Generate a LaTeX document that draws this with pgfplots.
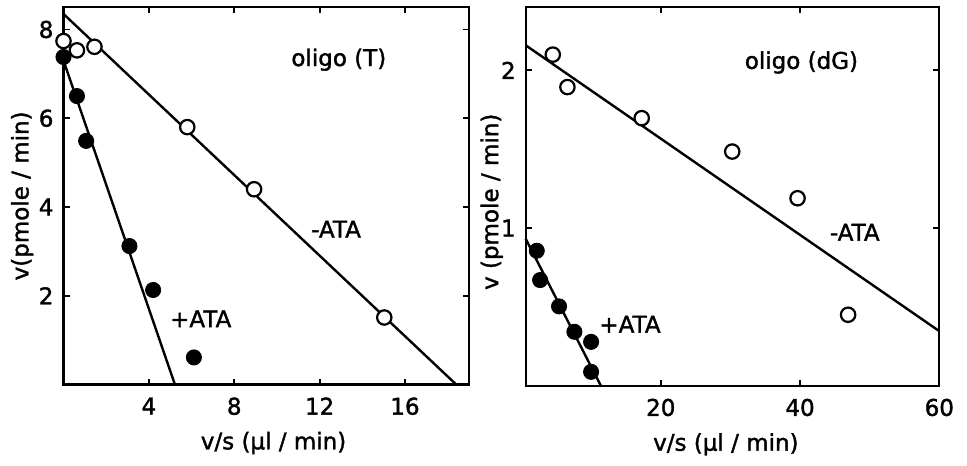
\documentclass[border=0pt]{standalone}
\usepackage{fontspec}
\setmainfont{DejaVu Sans}[FakeBold=1.5]
\usepackage{pgfplots}
\pgfplotsset{compat=1.18}
\newcommand{\lf}{\fontsize{11.5}{13}\selectfont}
\begin{document}
\begin{tikzpicture}
\useasboundingbox (0,0) rectangle (483.5pt,232.5pt);
\pgfplotsset{
  every axis/.append style={
    scale only axis, clip=false,
    axis line style={line width=1.1pt},
    tick align=inside, major tick length=3pt,
    every tick/.style={line width=0.9pt, black},
    /pgf/number format/assume math mode=true,
    tick label style={font=\lf},
    label style={font=\lf},
    xticklabel style={yshift=-3pt},
    yticklabel style={xshift=-1.5pt},
  },
  openc/.style={only marks, mark=*, mark size=3.6pt, mark options={fill=white, draw=black, line width=1.1pt}},
  fillc/.style={only marks, mark=*, mark size=3.8pt, mark options={fill=black, draw=black}},
  fitl/.style={no marks, line width=1.2pt, black},
}
% ---------- left panel: oligo (T)
\begin{axis}[at={(31.75pt,40.25pt)}, anchor=south west,
  width=202.75pt, height=188.6pt,
  xmin=0, xmax=19, ymin=0, ymax=8.5,
  xtick={4,8,12,16}, ytick={2,4,6,8},
  xlabel={v/s (µl / min)}, ylabel={v(pmole / min)},
  xlabel style={at={(axis description cs:0.518,-0.155)}, anchor=center},
  ylabel style={at={(axis description cs:-0.102,0.5)}, anchor=center}]
\addplot[fitl] coordinates {(0,8.35) (18.4,0)};
\addplot[fitl] coordinates {(0,7.3) (5.22,0)};
\addplot[openc] coordinates {(0,7.74) (0.63,7.53) (1.45,7.61) (5.8,5.80) (8.93,4.40) (15.03,1.51)};
\addplot[fillc] coordinates {(0,7.38) (0.63,6.5) (1.06,5.49) (3.09,3.12) (4.2,2.13) (6.11,0.61)};
\node[font=\lf] at (axis cs:12.9,7.32) {oligo (T)};
\node[font=\lf] at (axis cs:12.77,3.5) {-ATA};
\node[font=\lf] at (axis cs:6.43,1.48) {+ATA};
\end{axis}
% ---------- right panel: oligo (dG)
\begin{axis}[at={(262.85pt,39.65pt)}, anchor=south west,
  width=206.8pt, height=189.2pt,
  xmin=0.6, xmax=60, ymin=0, ymax=2.4,
  xtick={20,40,60}, ytick={1,2},
  xlabel={v/s (µl / min)}, ylabel={v (pmole / min)},
  xlabel style={at={(axis description cs:0.484,-0.155)}, anchor=center},
  ylabel style={at={(axis description cs:-0.082,0.486)}, anchor=center}]
\addplot[fitl] coordinates {(0.6,2.159) (60,0.346)};
\addplot[fitl] coordinates {(0.6,0.932) (11.39,0)};
\addplot[openc] coordinates {(4.49,2.10) (6.59,1.894) (17.26,1.697) (30.26,1.485) (39.64,1.189) (46.9,0.45)};
\addplot[fillc] coordinates {(2.19,0.856) (2.67,0.670) (5.39,0.503) (7.59,0.342) (9.99,0.278) (9.99,0.088)};
\node[font=\lf] at (axis cs:40.2,2.05) {oligo (dG)};
\node[font=\lf] at (axis cs:47.86,0.973) {-ATA};
\node[font=\lf] at (axis cs:15.58,0.39) {+ATA};
\end{axis}
\end{tikzpicture}
\end{document}
